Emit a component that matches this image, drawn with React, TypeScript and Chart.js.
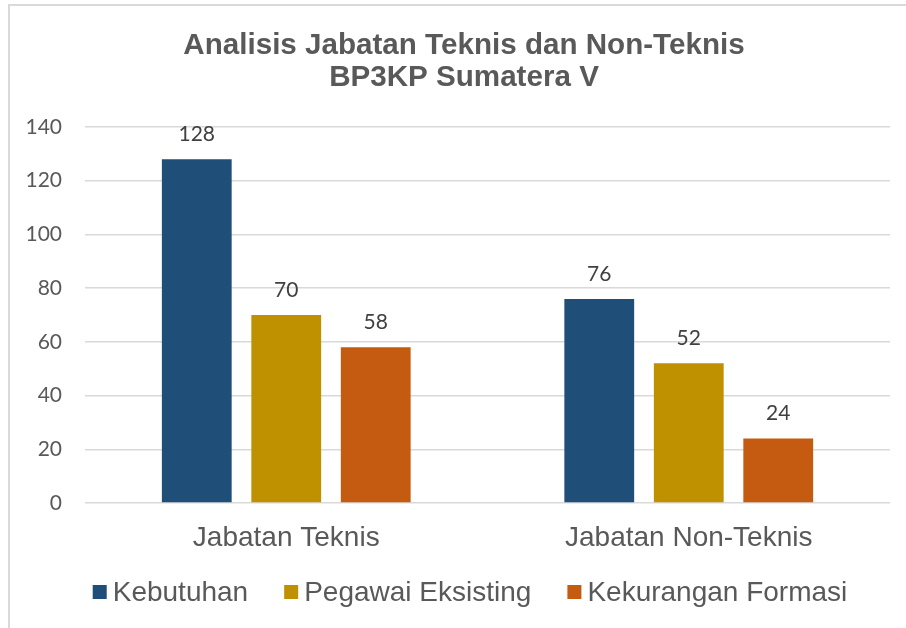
import React, { useEffect, useRef } from "react";
import { Chart, registerables } from "chart.js";

Chart.register(...registerables);

const titleLines = ["Analisis Jabatan Teknis dan Non-Teknis", "BP3KP Sumatera V"];
const categories = ["Jabatan Teknis", "Jabatan Non-Teknis"];
const seriesNames = ["Kebutuhan", "Pegawai Eksisting", "Kekurangan Formasi"];
const kebutuhan = [128, 76];
const pegawaiEksisting = [70, 52];
const kekuranganFormasi = [58, 24];
const seriesColors = ["#1F4E79", "#BF9000", "#C55A11"];
const yMin = 0;
const yMax = 140;
const yStep = 20;

const ARIAL = "'Liberation Sans', Arial, sans-serif";
const NUM = "Lato, 'Open Sans', sans-serif";

const decorPlugin = {
  id: "decor",
  beforeDraw(chart: any) {
    const ctx = chart.ctx;
    ctx.save();
    ctx.fillStyle = "#ffffff";
    ctx.fillRect(0, 0, chart.width, chart.height);
    ctx.strokeStyle = "#d9d9d9";
    ctx.lineWidth = 2;
    ctx.beginPath();
    ctx.moveTo(9, chart.height);
    ctx.lineTo(9, 5);
    ctx.lineTo(chart.width, 5);
    ctx.stroke();
    ctx.restore();
  },
  afterDraw(chart: any) {
    const ctx = chart.ctx;
    ctx.save();
    // title
    ctx.fillStyle = "#595959";
    ctx.font = `bold 29.6px ${ARIAL}`;
    ctx.textAlign = "center";
    ctx.textBaseline = "middle";
    ctx.fillText(titleLines[0], 464, 46);
    ctx.fillText(titleLines[1], 464, 78);
    // data labels
    ctx.font = `21px ${NUM}`;
    ctx.fillStyle = "#404040";
    chart.data.datasets.forEach((ds: any, i: number) => {
      const meta = chart.getDatasetMeta(i);
      meta.data.forEach((bar: any, j: number) => {
        ctx.fillText(String(ds.data[j]), bar.x, bar.y - 25);
      });
    });
    // legend
    ctx.font = `28px ${ARIAL}`;
    ctx.textAlign = "left";
    const box = 14;
    const gap = 6;
    const itemGap = 36;
    const widths = seriesNames.map((n) => ctx.measureText(n).width);
    const total = widths.reduce((a, w) => a + box + gap + w, 0) + itemGap * (seriesNames.length - 1);
    let x = 470 - total / 2;
    const cy = 592;
    seriesNames.forEach((n, i) => {
      ctx.fillStyle = seriesColors[i];
      ctx.fillRect(x, cy - box / 2, box, box);
      ctx.fillStyle = "#595959";
      ctx.fillText(n, x + box + gap, cy + 1);
      x += box + gap + widths[i] + itemGap;
    });
    ctx.restore();
  },
};

export default function App() {
  const ref = useRef<HTMLCanvasElement | null>(null);
  useEffect(() => {
    if (!ref.current) return;
    const chart = new Chart(ref.current, {
      type: "bar",
      data: {
        labels: categories,
        datasets: [kebutuhan, pegawaiEksisting, kekuranganFormasi].map((d, i) => ({
          label: seriesNames[i],
          data: d,
          backgroundColor: seriesColors[i],
          borderWidth: 0,
          categoryPercentage: 0.667,
          barPercentage: 0.78,
        })),
      },
      options: {
        animation: false,
        responsive: false,
        maintainAspectRatio: false,
        layout: { padding: { top: 127, right: 16, bottom: 0, left: 0 } },
        plugins: {
          legend: { display: false },
          title: { display: false },
          tooltip: { enabled: false },
        },
        scales: {
          x: {
            grid: { display: false, drawTicks: false },
            border: { display: false },
            ticks: {
              color: "#595959",
              font: { family: ARIAL, size: 28 },
              padding: 18,
            },
            afterFit(scale: any) {
              scale.height = 125;
            },
          },
          y: {
            min: yMin,
            max: yMax,
            grid: { color: "#d9d9d9", lineWidth: 1.5, drawTicks: false },
            border: { display: false },
            ticks: {
              stepSize: yStep,
              color: "#595959",
              font: { family: NUM, size: 21 },
              padding: 23,
            },
            afterFit(scale: any) {
              scale.width = 85;
            },
          },
        },
      },
      plugins: [decorPlugin],
    });
    return () => chart.destroy();
  }, []);
  return (
    <div style={{ position: "absolute", left: 0, top: 0, width: 906, height: 628, background: "#fff" }}>
      <canvas ref={ref} width={906} height={628} style={{ display: "block", width: 906, height: 628 }} />
    </div>
  );
}
